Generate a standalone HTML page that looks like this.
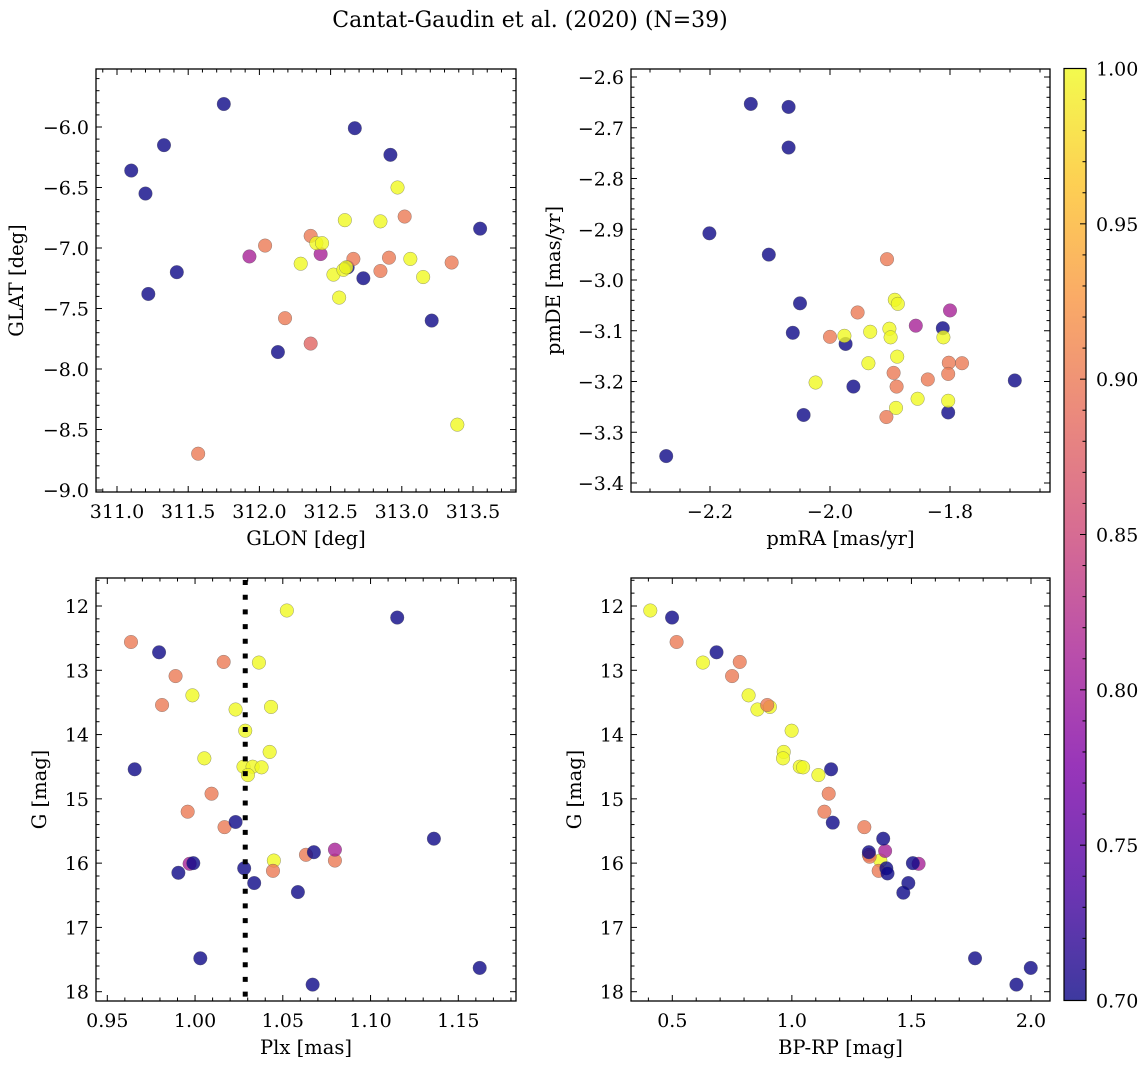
<!DOCTYPE html>
<html><head><meta charset="utf-8">
<style>
html,body{margin:0;padding:0;background:#fff;}
svg{display:block;font-family:"DejaVu Serif","Liberation Serif",serif;}
</style></head>
<body>
<svg id="fig" width="1148" height="1068" viewBox="0 0 1148 1068" xmlns="http://www.w3.org/2000/svg">
<defs>
<linearGradient id="plasmaGrad" x1="0" y1="1" x2="0" y2="0">
<stop offset="0" stop-color="#0d0887"/><stop offset="0.125" stop-color="#4c02a1"/>
<stop offset="0.25" stop-color="#7e03a8"/><stop offset="0.375" stop-color="#a92395"/>
<stop offset="0.5" stop-color="#cc4778"/><stop offset="0.625" stop-color="#e56b5d"/>
<stop offset="0.75" stop-color="#f89441"/><stop offset="0.875" stop-color="#fdc328"/>
<stop offset="1" stop-color="#f0f921"/>
</linearGradient>
</defs>
<text x="530" y="27" text-anchor="middle" font-size="22">Cantat-Gaudin et al. (2020) (N=39)</text>
</svg>
<script>
// ---- data ----
const p1Glon=[311.75,312.67,311.33,312.92,311.10,311.20,313.55,311.42,311.22,312.73,313.21,312.13,312.62,
312.36,312.04,313.02,312.66,312.91,312.85,313.35,312.18,312.36,311.57,
311.93,312.43,
312.97,312.60,312.85,312.40,312.44,313.06,312.29,312.52,312.59,312.61,313.15,312.56,313.39];
const p1Glat=[-5.81,-6.01,-6.15,-6.23,-6.36,-6.55,-6.84,-7.20,-7.38,-7.25,-7.60,-7.86,-7.16,
-6.90,-6.98,-6.74,-7.09,-7.08,-7.19,-7.12,-7.58,-7.79,-8.70,
-7.07,-7.05,
-6.50,-6.77,-6.78,-6.96,-6.96,-7.09,-7.13,-7.22,-7.18,-7.16,-7.24,-7.41,-8.46];
const p1Prob=[0.7,0.7,0.7,0.7,0.7,0.7,0.7,0.7,0.7,0.7,0.7,0.7,0.7,
0.9,0.9,0.9,0.9,0.9,0.9,0.9,0.9,0.88,0.9,
0.81,0.81,
1,1,1,1,1,1,1,1,1,1,1,1,1];

const p2PmRA=[-2.132,-2.069,-2.069,-2.201,-2.102,-2.050,-2.062,-1.974,-1.961,-2.044,-1.812,-1.803,-1.692,-2.273,
-1.905,-1.954,-2.000,-1.894,-1.889,-1.837,-1.802,-1.780,-1.803,-1.906,
-1.857,-1.800,
-1.892,-1.887,-1.933,-1.901,-1.899,-1.976,-1.811,-1.888,-1.936,-2.024,-1.854,-1.803,-1.890];
const p2PmDE=[-2.653,-2.659,-2.739,-2.908,-2.950,-3.046,-3.104,-3.126,-3.210,-3.266,-3.095,-3.261,-3.198,-3.347,
-2.959,-3.064,-3.112,-3.183,-3.210,-3.196,-3.163,-3.164,-3.185,-3.270,
-3.090,-3.060,
-3.039,-3.047,-3.102,-3.096,-3.113,-3.110,-3.113,-3.151,-3.164,-3.202,-3.234,-3.238,-3.252];
const p2Prob=[0.7,0.7,0.7,0.7,0.7,0.7,0.7,0.7,0.7,0.7,0.7,0.7,0.7,0.7,
0.9,0.9,0.9,0.9,0.9,0.9,0.9,0.9,0.9,0.9,
0.81,0.81,
1,1,1,1,1,1,1,1,1,1,1,1,1];

const p3Plx=[1.0523,1.0364,0.9985,1.0231,1.0433,1.0286,1.0425,1.0053,1.0276,1.0328,1.0379,1.0301,1.0449,
0.9635,1.0163,0.9889,0.9812,1.0094,0.9958,1.0168,1.0632,1.0797,1.0444,
1.0797,0.9969,
1.1152,0.9795,0.9656,1.0231,1.1361,1.0677,0.9990,0.9905,1.0280,1.0337,1.0586,1.0030,1.1622,1.0670];
const pG=[12.07,12.88,13.39,13.61,13.57,13.94,14.27,14.37,14.50,14.50,14.51,14.63,15.96,
12.56,12.87,13.09,13.54,14.92,15.20,15.44,15.87,15.96,16.12,
15.79,16.01,
12.18,12.72,14.54,15.36,15.62,15.83,16.00,16.15,16.08,16.31,16.45,17.48,17.63,17.89];
const p3Prob=[1,1,1,1,1,1,1,1,1,1,1,1,1,
0.9,0.9,0.9,0.9,0.9,0.9,0.9,0.9,0.9,0.9,
0.81,0.81,
0.7,0.7,0.7,0.7,0.7,0.7,0.7,0.7,0.7,0.7,0.7,0.7,0.7,0.7];
const plxMean=[1.0286];

const p4BpRp=[0.408,0.628,0.819,0.856,0.908,0.999,0.966,0.963,1.033,1.047,1.111,1.370,
0.518,0.782,0.750,0.897,1.154,1.136,1.303,1.322,1.363,1.325,
1.390,1.530,
0.499,0.685,1.164,1.171,1.382,1.322,1.506,1.395,1.400,1.487,1.466,1.766,1.999,1.939];
const p4G=[12.07,12.88,13.39,13.61,13.57,13.94,14.27,14.37,14.50,14.51,14.63,15.96,
12.56,12.87,13.09,13.54,14.92,15.20,15.44,15.87,16.12,15.90,
15.81,16.01,
12.18,12.72,14.54,15.37,15.62,15.83,16.00,16.08,16.16,16.31,16.46,17.48,17.63,17.89];
const p4Prob=[1,1,1,1,1,1,1,1,1,1,1,1,
0.9,0.9,0.9,0.9,0.9,0.9,0.9,0.88,0.9,0.9,
0.81,0.81,
0.7,0.7,0.7,0.7,0.7,0.7,0.7,0.7,0.7,0.7,0.7,0.7,0.7,0.7];

const p1XTicks=[311.0,311.5,312.0,312.5,313.0,313.5];
const p1YTicks=[-6.0,-6.5,-7.0,-7.5,-8.0,-8.5,-9.0];
const p2XTicks=[-2.2,-2.0,-1.8];
const p2YTicks=[-2.6,-2.7,-2.8,-2.9,-3.0,-3.1,-3.2,-3.3,-3.4];
const p3XTicks=[0.95,1.00,1.05,1.10,1.15];
const gTicks=[12,13,14,15,16,17,18];
const p4XTicks=[0.5,1.0,1.5,2.0];
const cbTicks=[0.70,0.75,0.80,0.85,0.90,0.95,1.00];

// ---- helpers ----
const NS='http://www.w3.org/2000/svg';
const svg=document.getElementById('fig');
const FS=19;
function mk(tag,attrs,parent){const e=document.createElementNS(NS,tag);for(const k in attrs)e.setAttribute(k,attrs[k]);(parent||svg).appendChild(e);return e;}
const stops=[[0,[13,8,135]],[0.125,[76,2,161]],[0.25,[126,3,168]],[0.375,[169,35,149]],[0.5,[204,71,120]],[0.625,[229,107,93]],[0.75,[248,148,65]],[0.875,[253,195,40]],[1,[240,249,33]]];
function plasma(t){t=Math.max(0,Math.min(1,t));for(let i=1;i<stops.length;i++){if(t<=stops[i][0]){const a=stops[i-1],b=stops[i];const f=(t-a[0])/(b[0]-a[0]);const c=a[1].map((v,j)=>Math.round(v+(b[1][j]-v)*f));return 'rgb('+c.join(',')+')';}}return 'rgb(240,249,33)';}
function lin(v1,p1,v2,p2){return v=>p1+(v-v1)*(p2-p1)/(v2-v1);}
function inv(v1,p1,v2,p2){return p=>v1+(p-p1)*(v2-v1)/(p2-p1);}
function fmt(v,d){const s=Math.abs(v).toFixed(d);return (v<0?'\u2212':'')+s;}

function panel(cfg){
  const g=mk('g',{});
  
  
  const {L,T,R,B}=cfg;
  const sx=lin(cfg.xr[0],cfg.xr[1],cfg.xr[2],cfg.xr[3]);
  const sy=lin(cfg.yr[0],cfg.yr[1],cfg.yr[2],cfg.yr[3]);
  const ix=inv(cfg.xr[0],cfg.xr[1],cfg.xr[2],cfg.xr[3]);
  const iy=inv(cfg.yr[0],cfg.yr[1],cfg.yr[2],cfg.yr[3]);
  const pg=mk('g',{},g);
  
  
  for(let i=0;i<cfg.xs.length;i++){
    const c=mk('circle',{cx:sx(cfg.xs[i]),cy:sy(cfg.ys[i]),r:6.8,fill:plasma((cfg.cs[i]-0.7)/0.3),'fill-opacity':0.8,stroke:'#555','stroke-opacity':0.6,'stroke-width':0.5},pg);
    
    
  }
  if(cfg.extra)cfg.extra(g,sx,sy);
  const fr=mk('rect',{x:L,y:T,width:R-L,height:B-T,fill:'none',stroke:'#000','stroke-width':1.3},g);
  
  
  const xa=mk('g',{},g);
  
  
  const xlo=Math.min(ix(L),ix(R)),xhi=Math.max(ix(L),ix(R));
  for(let k=Math.ceil(xlo/cfg.xminor-1e-6);k*cfg.xminor<=xhi+1e-9;k++){
    const v=k*cfg.xminor,px=sx(v);
    if(px<L+0.5||px>R-0.5)continue;
    const isMaj=cfg.xt.some(t=>Math.abs(t-v)<cfg.xminor/3);
    const len=isMaj?6:3.5;
    mk('line',{x1:px,y1:B,x2:px,y2:B-len,stroke:'#000','stroke-width':1},xa);
    mk('line',{x1:px,y1:T,x2:px,y2:T+len,stroke:'#000','stroke-width':1},xa);
  }
  cfg.xt.forEach(v=>{const t=mk('text',{x:sx(v),y:B+26,'text-anchor':'middle','font-size':FS},xa);t.textContent=fmt(v,cfg.xd);});
  const xl=mk('text',{x:(L+R)/2,y:B+53,'text-anchor':'middle','font-size':19.5},xa);xl.textContent=cfg.xlabel;
  
  
  const ya=mk('g',{},g);
  
  
  const ylo=Math.min(iy(T),iy(B)),yhi=Math.max(iy(T),iy(B));
  for(let k=Math.ceil(ylo/cfg.yminor-1e-6);k*cfg.yminor<=yhi+1e-9;k++){
    const v=k*cfg.yminor,py=sy(v);
    if(py<T+0.5||py>B-0.5)continue;
    const isMaj=cfg.yt.some(t=>Math.abs(t-v)<cfg.yminor/3);
    const len=isMaj?6:3.5;
    mk('line',{x1:L,y1:py,x2:L+len,y2:py,stroke:'#000','stroke-width':1},ya);
    mk('line',{x1:R,y1:py,x2:R-len,y2:py,stroke:'#000','stroke-width':1},ya);
  }
  cfg.yt.forEach(v=>{const t=mk('text',{x:L-7,y:sy(v)+7,'text-anchor':'end','font-size':FS},ya);t.textContent=fmt(v,cfg.yd);});
  const yl=mk('text',{x:cfg.ylx,y:(T+B)/2,'text-anchor':'middle','font-size':19.5,transform:'rotate(-90 '+cfg.ylx+' '+((T+B)/2)+')'},ya);yl.textContent=cfg.ylabel;
  
  
}

panel({name:'panel-glon-glat',L:96,T:69,R:516,B:492,xr:[311.0,117,313.5,473],yr:[-6,127,-9,490],
  xs:p1Glon,ys:p1Glat,cs:p1Prob,xt:p1XTicks,yt:p1YTicks,xminor:0.1,yminor:0.1,xd:1,yd:1,
  xlabel:'GLON [deg]',ylabel:'GLAT [deg]',ylx:23});
panel({name:'panel-proper-motion',L:631,T:69,R:1050,B:492,xr:[-2.2,710,-1.8,950],yr:[-2.6,77,-3.4,483],
  xs:p2PmRA,ys:p2PmDE,cs:p2Prob,xt:p2XTicks,yt:p2YTicks,xminor:0.05,yminor:0.02,xd:1,yd:1,
  xlabel:'pmRA [mas/yr]',ylabel:'pmDE [mas/yr]',ylx:560});
panel({name:'panel-plx-g',L:96,T:578,R:516,B:1001,xr:[0.95,107.3,1.15,458.3],yr:[12,606,18,991.7],
  xs:p3Plx,ys:pG,cs:p3Prob,xt:p3XTicks,yt:gTicks,xminor:0.01,yminor:0.2,xd:2,yd:0,
  xlabel:'Plx [mas]',ylabel:'G [mag]',ylx:46,
  extra:(g,sx,sy)=>{const l=mk('line',{x1:sx(plxMean[0]),y1:580,x2:sx(plxMean[0]),y2:1001,stroke:'#000','stroke-width':5,'stroke-dasharray':'5 9.7'},g);
    
    }});
panel({name:'panel-cmd',L:631,T:578,R:1050,B:1001,xr:[0.5,672.3,2.0,1031],yr:[12,606,18,991.7],
  xs:p4BpRp,ys:p4G,cs:p4Prob,xt:p4XTicks,yt:gTicks,xminor:0.1,yminor:0.2,xd:1,yd:0,
  xlabel:'BP-RP [mag]',ylabel:'G [mag]',ylx:581});

// colorbar
const cb=mk('g',{});


const cL=1064,cR=1086,cT=68.5,cB=1000.5;
const cy=lin(0.7,cB,1.0,cT);
mk('rect',{x:cL,y:cT,width:cR-cL,height:cB-cT,fill:'url(#plasmaGrad)','fill-opacity':0.8,stroke:'#000','stroke-width':1.2},cb);
for(let k=70;k<=100;k++){const py=cy(k/100);const maj=k%5===0;
  if(k!==70&&k!==100)mk('line',{x1:cR,y1:py,x2:cR-(maj?6:3.5),y2:py,stroke:'#000','stroke-width':1},cb);}
cbTicks.forEach(v=>{const t=mk('text',{x:1096,y:cy(v)+7,'font-size':FS},cb);t.textContent=v.toFixed(2);
  
  });
</script>
</body></html>
